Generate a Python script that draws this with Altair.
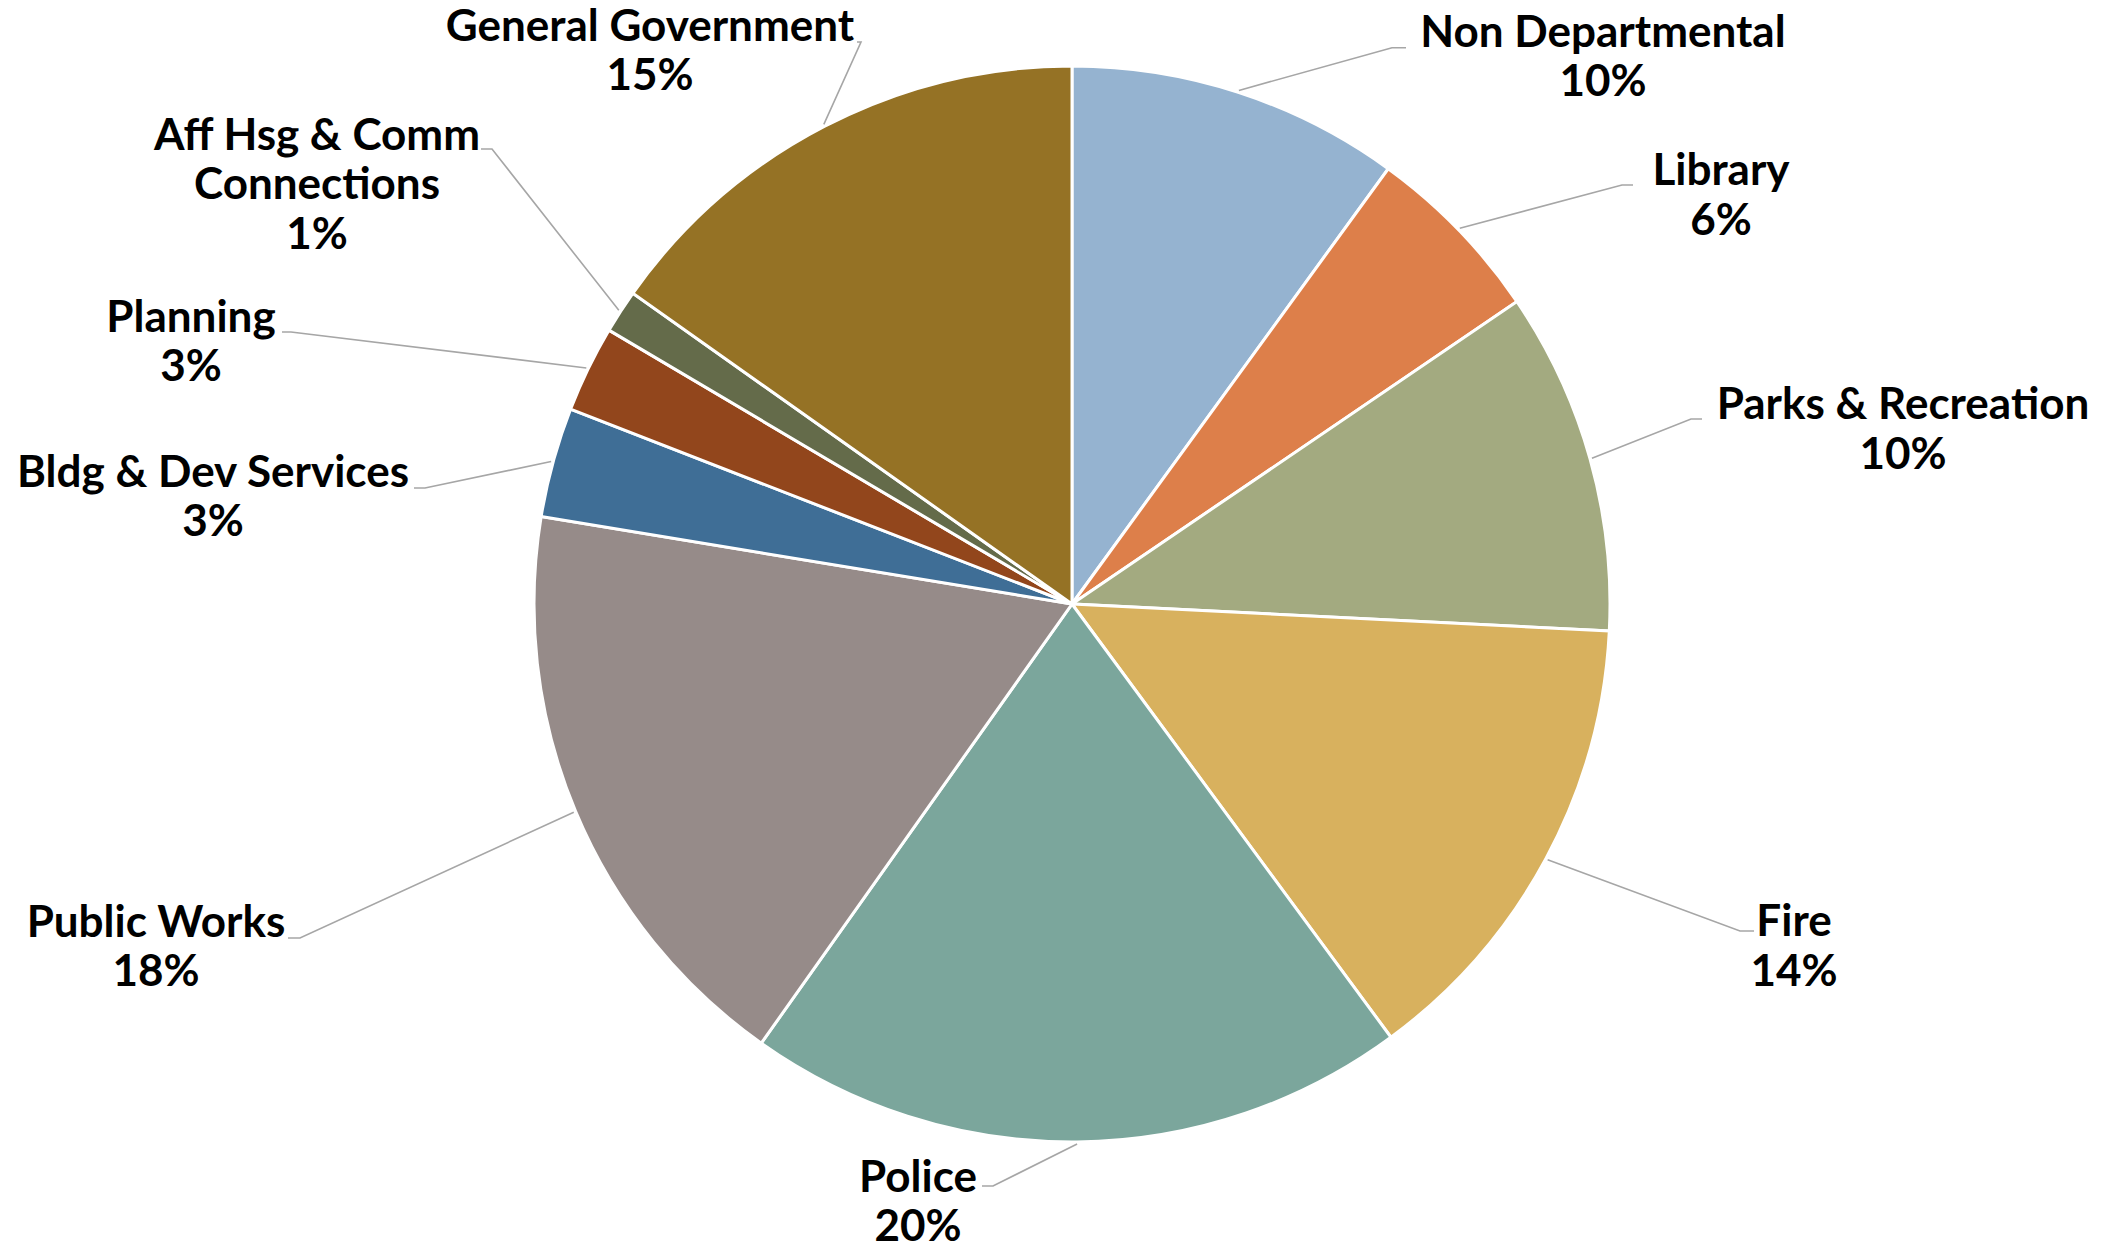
import math
import altair as alt
import pandas as pd

# ---- data ----
depts = ["Non Departmental", "Library", "Parks & Recreation", "Fire", "Police",
         "Public Works", "Bldg & Dev Services", "Planning",
         "Aff Hsg & Comm Connections", "General Government"]
shares = [10.0, 5.5, 10.3, 14.1, 19.9, 17.8, 3.3, 2.6, 1.3, 15.2]
pct_labels = ["10%", "6%", "10%", "14%", "20%", "18%", "3%", "3%", "1%", "15%"]
name_lines = [["Non Departmental"], ["Library"], ["Parks & Recreation"], ["Fire"],
              ["Police"], ["Public Works"], ["Bldg & Dev Services"], ["Planning"],
              ["Aff Hsg & Comm", "Connections"], ["General Government"]]
colors = ["#95B3D0", "#DD7F4A", "#A3AA80", "#D8B15E", "#7BA69C",
          "#968B89", "#3F6E96", "#92461C", "#646B4A", "#957225"]

# ---- layout (pixels) ----
W, H = 2115, 1245
CX, CY, R = 1072, 604, 538
LEAD_R = 540
LINE_H = 49.5
label_x = [1603, 1721, 1903, 1794, 918, 156, 213, 191, 317, 650]
label_y = [46.7, 185, 419, 936, 1191.7, 936.7, 486.7, 331.7, 149.7, 40.7]
elbow_x = [1392, 1622, 1691, 1740, 993, 300, 425, 291, 492, 861]
elbow_y = [47.7, 185, 419, 931, 1186, 938, 488, 332, 149, 42]
end_x = [1406, 1633, 1702, 1754, 982, 288, 414, 282, 481, 857]

total = sum(shares)
arc_df = pd.DataFrame({"dept": depts, "value": shares, "idx": list(range(len(depts)))})

# leader lines: start at slice mid-angle on the rim
rows = []
cum = 0.0
for i, (d, v) in enumerate(zip(depts, shares)):
    mid = (cum + v / 2) / total * 2 * math.pi
    cum += v
    sx = CX + LEAD_R * math.sin(mid)
    sy = CY - LEAD_R * math.cos(mid)
    rows.append({"dept": d, "seq": 0, "px": sx, "py": sy})
    rows.append({"dept": d, "seq": 1, "px": elbow_x[i], "py": elbow_y[i]})
    rows.append({"dept": d, "seq": 2, "px": end_x[i], "py": elbow_y[i]})
line_df = pd.DataFrame(rows)

trows = []
for i, d in enumerate(depts):
    lines = name_lines[i] + [pct_labels[i]]
    for j, t in enumerate(lines):
        trows.append({"dept": d, "txt": t, "px": label_x[i], "py": label_y[i] + j * LINE_H})
text_df = pd.DataFrame(trows)

xs = alt.Scale(domain=[0, W], range=[0, W], nice=False, zero=False)
ys = alt.Scale(domain=[0, H], range=[0, H], nice=False, zero=False)

pie = alt.Chart(arc_df).mark_arc(radius=R, stroke="white", strokeWidth=3).encode(
    theta=alt.Theta("value:Q", stack=True),
    color=alt.Color("dept:N", scale=alt.Scale(domain=depts, range=colors), legend=None),
    order=alt.Order("idx:Q"),
    x=alt.value(CX),
    y=alt.value(CY),
)

leaders = alt.Chart(line_df).mark_line(color="#A6A6A6", strokeWidth=1.6).encode(
    x=alt.X("px:Q", scale=xs, axis=None),
    y=alt.Y("py:Q", scale=ys, axis=None),
    detail="dept:N",
    order="seq:Q",
)

labels = alt.Chart(text_df).mark_text(
    font="Lato", fontSize=44, fontWeight="bold", color="black",
    align="center", baseline="alphabetic",
).encode(
    x=alt.X("px:Q", scale=xs, axis=None),
    y=alt.Y("py:Q", scale=ys, axis=None),
    text="txt:N",
)

chart = alt.layer(pie, leaders, labels).properties(
    width=W, height=H, autosize="none", padding=0,
).configure_view(strokeWidth=0)

chart.save("out.html", embed_options={"renderer": "svg", "actions": False})
